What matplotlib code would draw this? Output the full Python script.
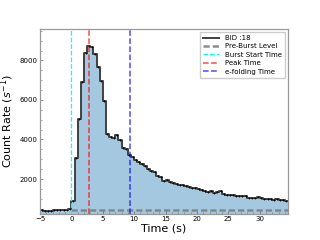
import numpy as np
import matplotlib
matplotlib.use("Agg")
import matplotlib.pyplot as plt
from matplotlib.ticker import MultipleLocator

# Light curve, 0.5 s bins (bin start times from -5 s)
BIN_WIDTH = 0.5
t_start = -5.0
count_rate = [
    410, 400, 395, 405, 410, 425, 440, 430, 450, 470,
    870, 3050, 5050, 6900, 8400, 8750, 8680, 8350, 7650, 6950,
    5950, 4300, 4120, 4080, 4250, 3950, 3560, 3520, 3230, 3120,
    2980, 2850, 2740, 2680, 2500, 2400, 2330, 2160, 2090, 1920,
    1960, 1840, 1800, 1760, 1700, 1690, 1640, 1610, 1540, 1520,
    1490, 1450, 1380, 1340, 1370, 1310, 1320, 1400, 1260, 1200,
    1170, 1180, 1150, 1140, 1130, 1140, 1030, 1060, 1050, 1080,
    1040, 1010, 1000, 980, 960, 990, 940, 930, 880,
]
pre_burst_level = 420
burst_start = 0.0
peak_time = 2.75
efold_time = 9.3
bid_label = "BID :18"

rate = np.array(count_rate, dtype=float)
edges = t_start + BIN_WIDTH * np.arange(len(rate) + 1)
rate_ext = np.append(rate, rate[-1])

fig, ax = plt.subplots(figsize=(3.2, 2.4), dpi=100)

ax.fill_between(edges, 0, rate_ext, step="post", color="C0", alpha=0.4, linewidth=0)
ax.step(edges, rate_ext, where="post", color="0.25", linewidth=1.4, label=bid_label)
ax.plot(edges[:-1] + BIN_WIDTH / 2, rate, "k+", markersize=2, markeredgewidth=0.6)

ax.hlines(pre_burst_level, burst_start, edges[-1], colors="gray", linestyles=(0, (2.5, 1.2)),
          linewidth=1.8, alpha=0.9, label="Pre-Burst Level")
ax.axvline(burst_start, color="cyan", linestyle="--", linewidth=0.9, label="Burst Start Time")
ax.axvline(peak_time, color="red", linestyle="--", linewidth=1.1, alpha=0.7, label="Peak Time")
ax.axvline(efold_time, color="blue", linestyle="--", linewidth=1.1, alpha=0.7, label="e-folding Time")

ax.set_xlim(-5, 34.5)
ax.set_ylim(250, 9600)
ax.xaxis.set_major_locator(MultipleLocator(5))
ax.xaxis.set_minor_locator(MultipleLocator(1))
ax.yaxis.set_major_locator(MultipleLocator(2000))
ax.yaxis.set_minor_locator(MultipleLocator(500))
ax.tick_params(which="both", direction="in", labelsize=5, color="0.4", pad=2)
ax.tick_params(which="major", length=2.5, width=0.5)
ax.tick_params(which="minor", length=1.5, width=0.4)
for s in ax.spines.values():
    s.set_color("0.6")
    s.set_linewidth(0.9)

ax.set_xlabel("Time (s)", fontsize=8, labelpad=1)
ax.set_ylabel("Count Rate ($s^{-1}$)", fontsize=8, labelpad=2)

ax.legend(loc="upper right", fontsize=5, handlelength=2.3, labelspacing=0.35,
          borderpad=0.4, fancybox=False, framealpha=1, edgecolor="0.8")

fig.savefig("out.png", dpi=100)
